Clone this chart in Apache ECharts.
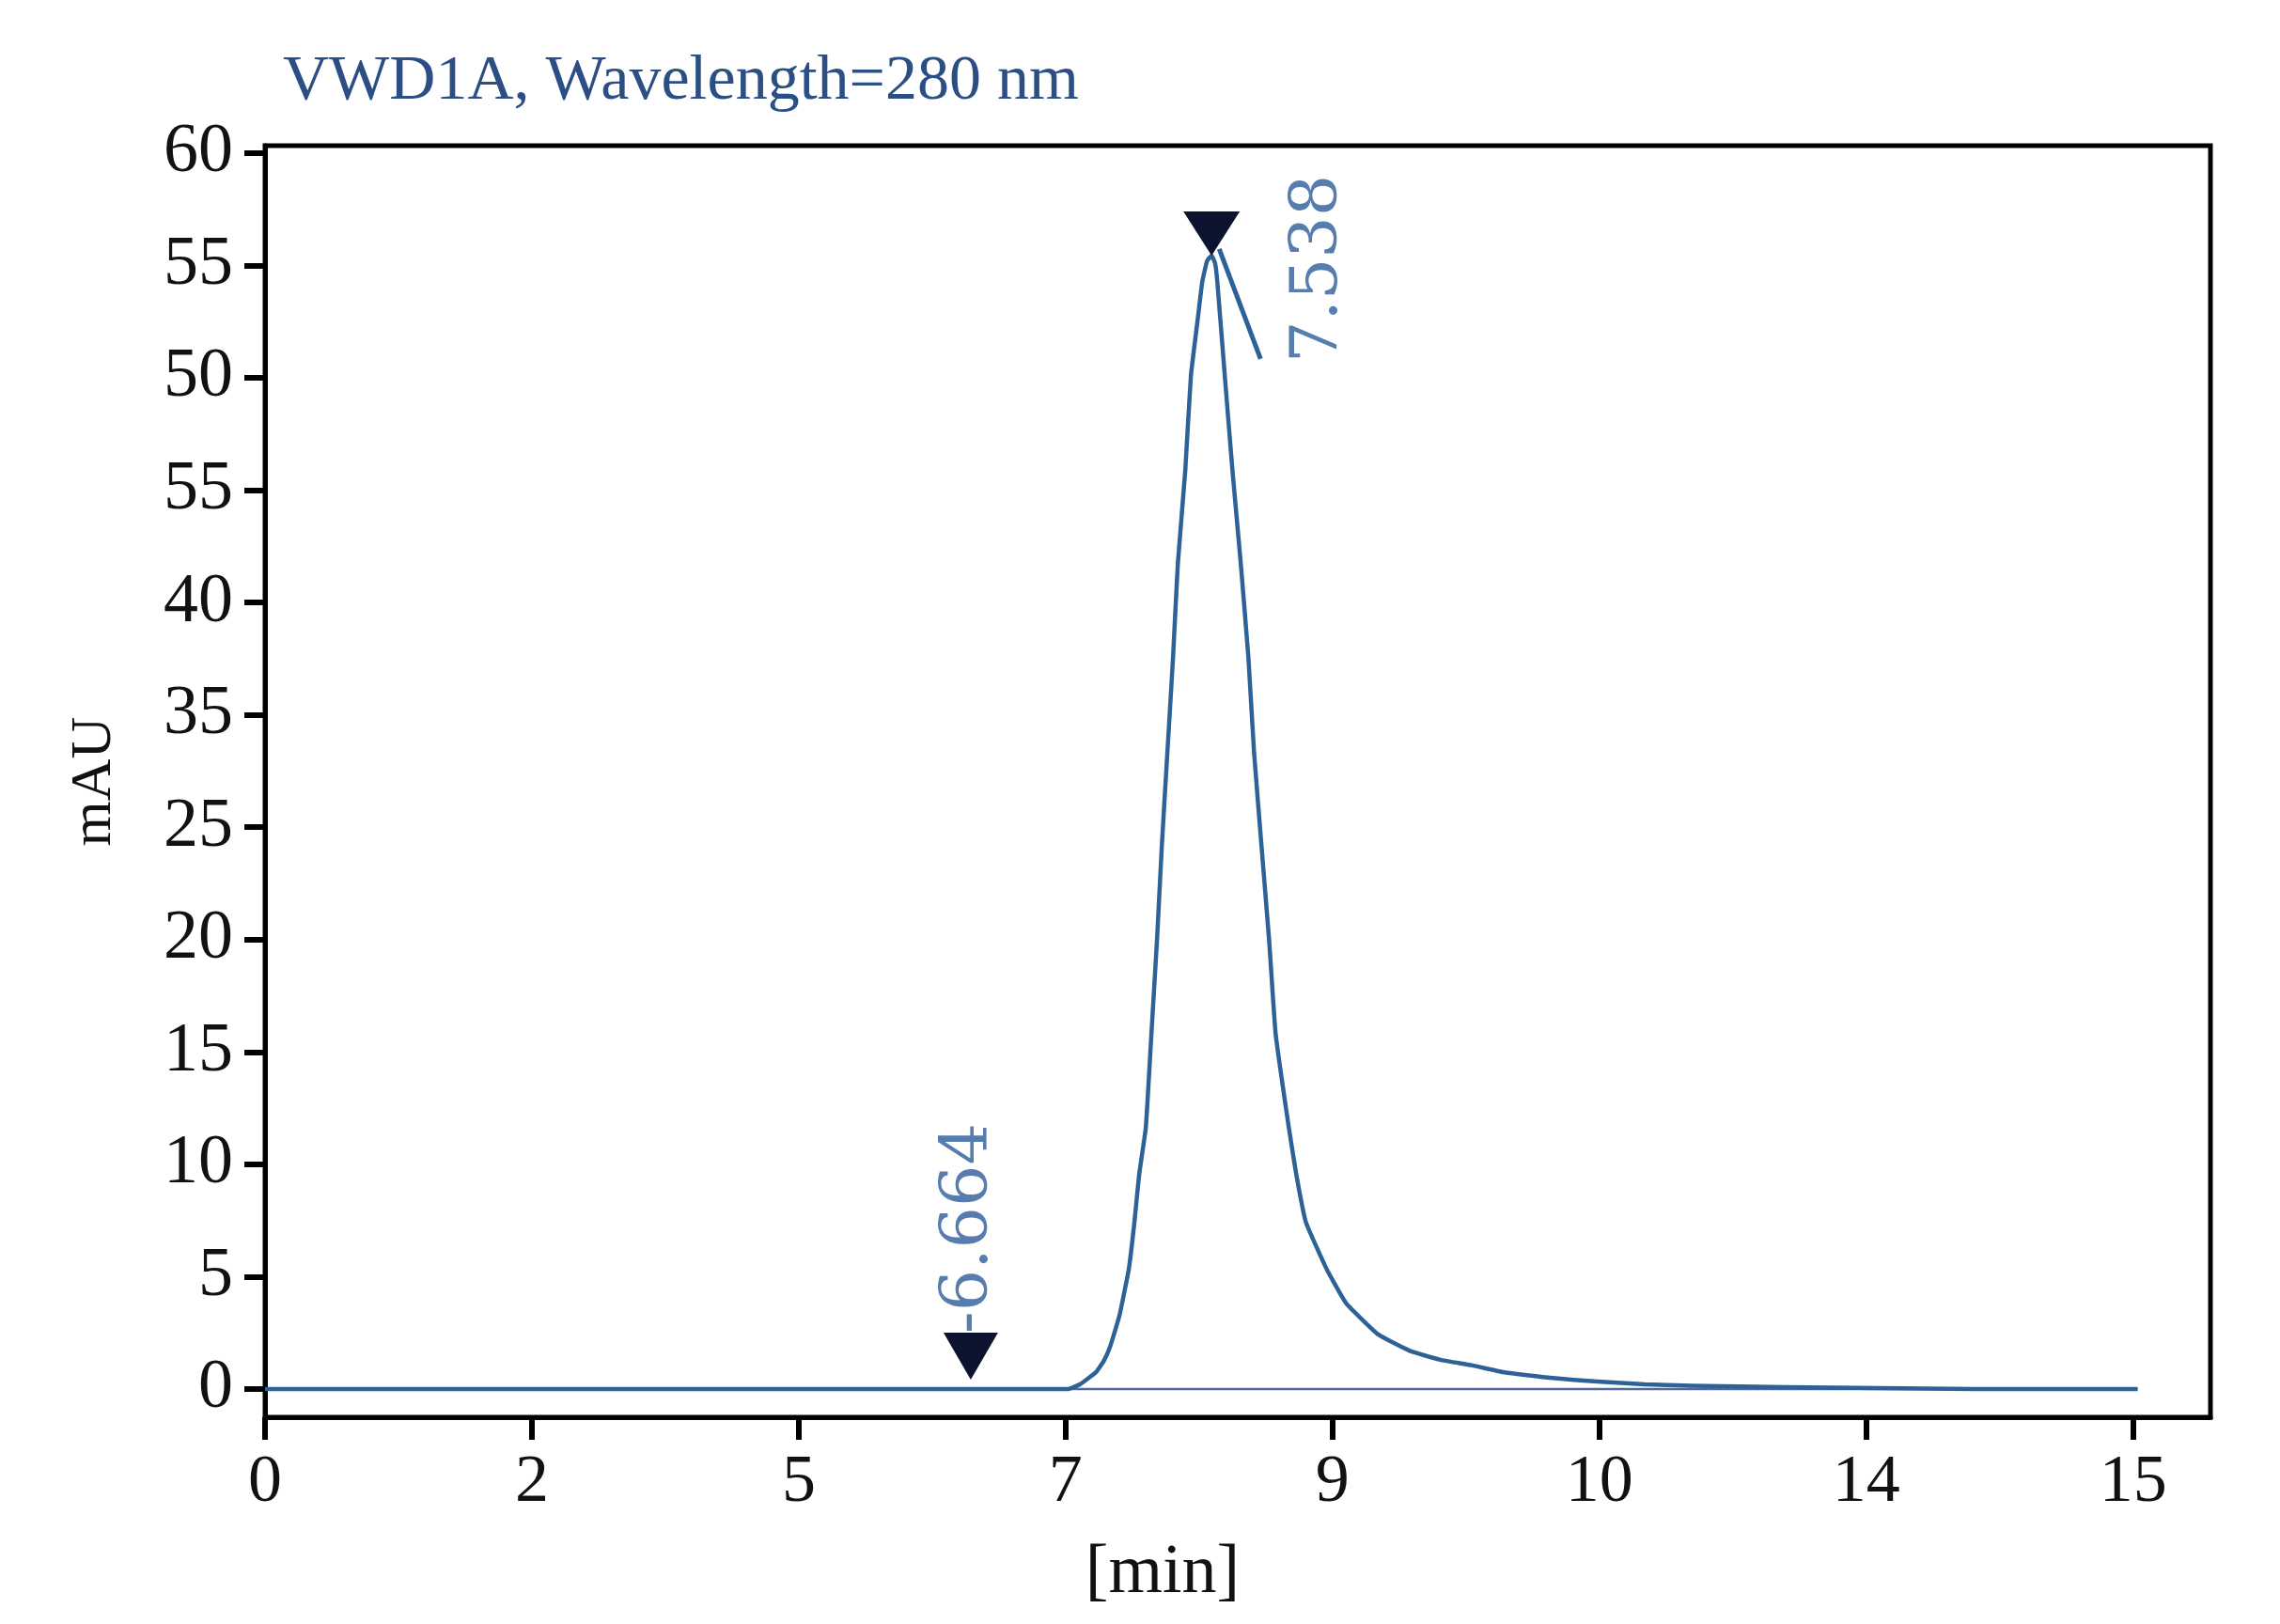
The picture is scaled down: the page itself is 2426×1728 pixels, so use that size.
<!DOCTYPE html>
<html>
<head>
<meta charset="utf-8">
<script src="https://cdn.jsdelivr.net/npm/echarts@6/dist/echarts.min.js"></script>
<style>html,body{margin:0;padding:0;background:#fff;}#c{width:2426px;height:1728px;}</style>
</head>
<body>
<div id="c"></div>
<script>
// ---- data ----
var titleText = 'VWD1A, Wavelength=280 nm';
var xTickValues = [0, 2, 4, 6, 8, 10, 12, 14];
var xTickLabels = ['0', '2', '5', '7', '9', '10', '14', '15'];
var yTickValues = [0, 5, 10, 15, 20, 25, 30, 35, 40, 45, 50, 55];
var yTickLabels = ['0', '5', '10', '15', '20', '25', '35', '40', '55', '50', '55', '60'];
// chromatogram signal [time, mAU]
var signalX = [0, 2, 4, 6.015, 6.107, 6.227, 6.286, 6.333, 6.403, 6.474, 6.516, 6.551, 6.601, 6.643, 6.685, 6.721, 6.763, 6.805, 6.841, 6.897, 6.939, 6.990, 7.024, 7.060, 7.094,
  7.120, 7.137, 7.193, 7.250, 7.313, 7.370, 7.412, 7.468, 7.525, 7.574, 7.673, 7.729, 7.800, 7.955, 8.103, 8.343, 8.575, 8.808, 9.048, 9.281, 9.633, 9.986, 10.338, 10.691, 11.396, 12.102, 12.807, 14.034];
var signalY = [0, 0, 0, 0, 0.21, 0.75, 1.25, 1.88, 3.26, 5.35, 7.44, 9.54, 11.63, 15.81, 19.99, 24.17, 28.36, 32.54, 36.72, 40.90, 45.09, 47.60, 49.27, 50.20, 50.44,
  50.10, 49.27, 45.09, 40.90, 36.72, 32.54, 28.36, 24.17, 19.99, 15.81, 11.63, 9.54, 7.44, 5.35, 3.81, 2.43, 1.71, 1.30, 1.05, 0.75, 0.50, 0.33, 0.21, 0.15, 0.08, 0.04, 0, 0];
var baselineX = [6.015, 14.034];
var baselineY = [0, 0];
var tangentX = [7.151, 7.461];
var tangentY = [50.73, 45.84];
var peakNames = ['7.538', '-6.664'];
var peakX = [7.094, 5.289];
var peakY = [50.44, 0.42];

// ---- build ----
function zip(a, b) { return a.map(function (v, i) { return [v, b[i]]; }); }
var serif = 'Liberation Serif';
var curveColor = '#2d6296';

var chart = echarts.init(document.getElementById('c'));
chart.setOption({
  animation: false,
  backgroundColor: '#fff',
  title: {
    text: titleText, left: 296, top: 48,
    textStyle: { fontFamily: serif, fontSize: 68, fontWeight: 'normal', color: '#2b4e84' }
  },
  grid: { left: 282, right: 74, top: 155, bottom: 220, show: true, borderColor: '#000', borderWidth: 5, backgroundColor: 'transparent' },
  xAxis: {
    type: 'value', min: 0, max: 14.58,
    name: '[min]', nameLocation: 'middle', nameGap: 130,
    nameTextStyle: { fontFamily: serif, fontSize: 74, color: '#111', padding: [0, 160, 0, 0] },
    axisLine: { show: true, onZero: false, lineStyle: { color: '#000', width: 5 } },
    axisTick: { show: true, length: 24, lineStyle: { color: '#000', width: 6 }, customValues: xTickValues },
    axisLabel: { fontFamily: serif, fontSize: 72, color: '#111', margin: 34, customValues: xTickValues,
      formatter: function (v) { var i = xTickValues.indexOf(v); return i >= 0 ? xTickLabels[i] : ''; } },
    splitLine: { show: false }
  },
  yAxis: {
    type: 'value', min: -1.255, max: 55.33,
    name: 'mAU', nameLocation: 'middle', nameGap: 150, nameRotate: 90,
    nameTextStyle: { fontFamily: serif, fontSize: 62, color: '#111' },
    axisLine: { show: true, lineStyle: { color: '#000', width: 5 } },
    axisTick: { show: true, length: 22, lineStyle: { color: '#000', width: 6 }, customValues: yTickValues },
    axisLabel: { fontFamily: serif, fontSize: 74, color: '#111', margin: 34, customValues: yTickValues,
      formatter: function (v) { var i = yTickValues.indexOf(v); return i >= 0 ? yTickLabels[i] : ''; } },
    splitLine: { show: false }
  },
  series: [
    {
      type: 'line', data: zip(baselineX, baselineY), symbol: 'none',
      lineStyle: { color: '#56679a', width: 2.5 }, z: 2
    },
    {
      type: 'line', data: zip(signalX, signalY), symbol: 'none', smooth: 0.12,
      lineStyle: { color: curveColor, width: 4.5, join: 'round' }, z: 3
    },
    {
      type: 'line', data: zip(tangentX, tangentY), symbol: 'none',
      lineStyle: { color: curveColor, width: 5 }, z: 3
    },
    {
      type: 'scatter', z: 5,
      data: [
        { value: [peakX[0], peakY[0]], symbolSize: [60, 47], symbolOffset: [0, -23.5] },
        { value: [peakX[1], peakY[1]], symbolSize: [58, 50], symbolOffset: [0, -25] }
      ],
      symbol: 'triangle', symbolRotate: 180,
      itemStyle: { color: '#0b132e', opacity: 1 }
    },
    {
      type: 'scatter', z: 6, symbolSize: 1, itemStyle: { color: 'transparent' },
      data: [
        { value: [peakX[0], peakY[0]], name: peakNames[0], label: { offset: [-14, 115] } },
        { value: [peakX[1], peakY[1]], name: peakNames[1], label: { offset: [161, -1] } }
      ],
      label: {
        show: true, position: 'inside', rotate: 90, align: 'center', verticalAlign: 'middle',
        formatter: function (p) { return p.name; },
        fontFamily: 'DejaVu Serif', fontSize: 70, color: '#2c5c98'
      }
    }
  ]
});
</script>
</body>
</html>
